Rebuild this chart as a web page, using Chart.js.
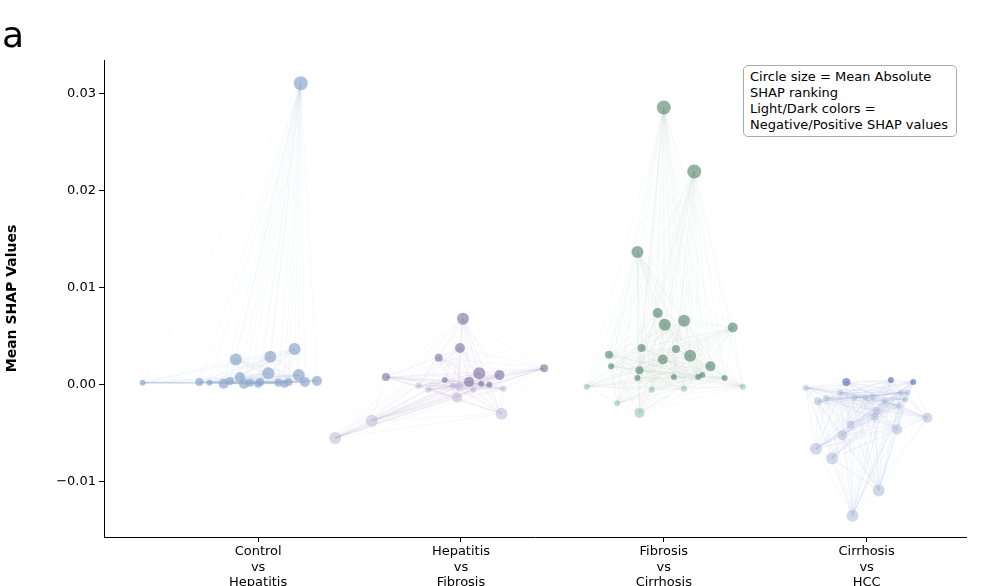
<!DOCTYPE html>
<html lang="en">
<head>
<meta charset="UTF-8">
<title>Mean SHAP Values</title>
<script src="https://cdn.jsdelivr.net/npm/chart.js"></script>
<style>
  body { margin: 0; background: #fff; font-family: "DejaVu Sans", sans-serif; }
  .wrap { position: relative; width: 998px; height: 586px; }
  .panel { position: absolute; left: 2px; top: 14px; font-size: 36px; }
  .note { position: absolute; left: 743px; top: 65px; width: 200px; border: 1px solid #aaa; border-radius: 5px;
          padding: 3px 6px; font-size: 13px; line-height: 16px; background: #fff; }
</style>
</head>
<body>
<div class="wrap">
  <canvas id="shap" width="998" height="586"></canvas>
  <div class="panel">a</div>
  <div class="note">Circle size = Mean Absolute SHAP ranking<br>Light/Dark colors =<br>Negative/Positive SHAP values</div>
</div>
<script>
const categories = [["Control", "vs", "Hepatitis"], ["Hepatitis", "vs", "Fibrosis"], ["Fibrosis", "vs", "Cirrhosis"], ["Cirrhosis", "vs", "HCC"]];
const yTicks = [-0.01, 0, 0.01, 0.02, 0.03];

// x = offset from category centre, y = mean SHAP, r = importance rank size
const controlX = [-0.57, 0.21, -0.11, 0.06, 0.18, -0.09, 0.05, 0.20, 0.29, -0.29, -0.17, -0.04, 0.01, 0.10, 0.15, -0.14, -0.24, -0.07, 0.23, 0.13, 0.0];
const controlY = [0.0002, 0.0311, 0.0026, 0.0029, 0.0037, 0.0008, 0.0012, 0.0010, 0.0004, 0.0003, 0.0001, 0.0002, 0.0003, 0.0002, 0.0003, 0.0004, 0.0002, 0.0001, 0.0003, 0.0001, 0.0001];
const controlR = [3, 7, 6, 6, 6, 5, 6, 6, 5, 4, 5, 4, 4, 4, 4, 4, 3, 5, 5, 4, 4];

const hepX = [0.01, -0.005, -0.11, -0.37, -0.21, 0.19, 0.41, 0.09, -0.62, -0.44, 0.2, -0.02, -0.04, 0.04, 0.14, 0.06, -0.08, -0.16, 0.21, -0.01, 0.1];
const hepY = [0.0068, 0.0038, 0.0028, 0.0008, -0.0001, 0.0010, 0.0017, 0.0012, -0.0055, -0.0037, -0.0030, -0.0013, -0.0001, 0.0003, 0.0000, -0.0005, 0.0005, -0.0005, -0.0004, -0.0002, 0.0001];
const hepR = [6, 5, 4, 4, 3, 5, 4, 6, 6, 6, 6, 5, 3, 5, 3, 3, 3, 3, 3, 4, 3];

const fibX = [0.0, 0.15, -0.13, -0.03, 0.005, 0.1, 0.34, -0.27, -0.11, 0.06, 0.13, -0.005, 0.23, -0.26, -0.12, 0.17, -0.13, 0.05, 0.3, -0.38, -0.23, -0.12, 0.1, 0.39, -0.06, 0.19];
const fibY = [0.0286, 0.0220, 0.0137, 0.0074, 0.0062, 0.0066, 0.0059, 0.0031, 0.0038, 0.0037, 0.0030, 0.0026, 0.0019, 0.0019, 0.0015, 0.0008, 0.0007, 0.0008, 0.0007, -0.0002, -0.0019, -0.0029, -0.0004, -0.0002, -0.0005, 0.0010];
const fibR = [7, 7, 6, 5, 6, 6, 5, 4, 4, 4, 6, 5, 5, 3, 4, 3, 3, 3, 3, 3, 3, 5, 3, 3, 3, 3];

const hccX = [-0.3, -0.1, 0.12, 0.23, -0.13, 0.03, -0.24, -0.2, -0.06, -0.005, 0.2, 0.19, 0.16, 0.05, 0.04, -0.08, 0.3, 0.15, -0.12, -0.25, -0.17, 0.06, -0.07, 0.17, 0.09];
const hccY = [-0.0003, 0.0003, 0.0005, 0.0003, -0.0008, -0.0012, -0.0017, -0.0014, -0.0013, -0.0013, -0.0008, -0.0015, -0.0022, -0.0027, -0.0033, -0.0041, -0.0034, -0.0046, -0.0052, -0.0066, -0.0076, -0.0109, -0.0135, -0.0008, -0.0017];
const hccR = [3, 4, 3, 3, 3, 3, 4, 3, 3, 3, 3, 3, 3, 4, 4, 4, 5, 5, 5, 6, 6, 6, 6, 3, 3];

const groups = [
  { xs: controlX, ys: controlY, rs: controlR, dark: "rgba(143,166,204,0.7)", light: "rgba(143,166,204,0.7)", edge: "rgba(143,166,204,0.12)" },
  { xs: hepX, ys: hepY, rs: hepR, dark: "rgba(128,120,165,0.65)", light: "rgba(190,182,212,0.55)", edge: "rgba(128,120,165,0.10)" },
  { xs: fibX, ys: fibY, rs: fibR, dark: "rgba(90,138,113,0.65)", light: "rgba(150,196,176,0.6)", edge: "rgba(110,150,130,0.09)" },
  { xs: hccX, ys: hccY, rs: hccR, dark: "rgba(90,115,185,0.65)", light: "rgba(178,192,218,0.6)", edge: "rgba(100,120,185,0.10)" }
];

const datasets = groups.map((g, gi) => ({
  data: g.xs.map((x, i) => ({ x: gi + x, y: g.ys[i] })),
  pointRadius: g.rs,
  pointBackgroundColor: g.ys.map(v => v < 0 ? g.light : g.dark),
  pointBorderWidth: 0,
  edgeColor: g.edge
}));

const edges = {
  id: "edges",
  beforeDatasetsDraw(chart) {
    const ctx = chart.ctx;
    ctx.save();
    ctx.lineWidth = 0.6;
    chart.data.datasets.forEach((ds, di) => {
      const pts = chart.getDatasetMeta(di).data;
      ctx.strokeStyle = ds.edgeColor;
      for (let i = 0; i < pts.length; i++) {
        for (let j = i + 1; j < pts.length; j++) {
          ctx.beginPath();
          ctx.moveTo(pts[i].x, pts[i].y);
          ctx.lineTo(pts[j].x, pts[j].y);
          ctx.stroke();
        }
      }
    });
    ctx.restore();
  }
};

new Chart(document.getElementById("shap"), {
  type: "scatter",
  data: { datasets: datasets },
  plugins: [edges],
  options: {
    responsive: false,
    animation: false,
    layout: { padding: { top: 60, right: 32, left: 0, bottom: 0 } },
    plugins: { legend: { display: false }, tooltip: { enabled: false } },
    scales: {
      x: {
        type: "linear", min: -0.76, max: 3.49,
        afterBuildTicks: ax => { ax.ticks = categories.map((c, i) => ({ value: i })); },
        afterFit: ax => { ax.height = 49; },
        ticks: { color: "#000", font: { size: 13, family: "DejaVu Sans" }, padding: 2, maxRotation: 0,
                 callback: v => categories[v] },
        grid: { drawOnChartArea: false, drawTicks: true, tickLength: 5, color: "#000" },
        border: { color: "#000" }
      },
      y: {
        min: -0.0157, max: 0.0335,
        afterBuildTicks: ax => { ax.ticks = yTicks.map(v => ({ value: v })); },
        afterFit: ax => { ax.width = 104; },
        ticks: { color: "#000", font: { size: 13, family: "DejaVu Sans" },
                 callback: v => (v < 0 ? "\u2212" : "") + Math.abs(v).toFixed(2) },
        title: { display: true, text: "Mean SHAP Values", color: "#000", font: { size: 14, weight: "bold", family: "DejaVu Sans" } },
        grid: { drawOnChartArea: false, drawTicks: true, tickLength: 5, color: "#000" },
        border: { color: "#000" }
      }
    }
  }
});
</script>
</body>
</html>
